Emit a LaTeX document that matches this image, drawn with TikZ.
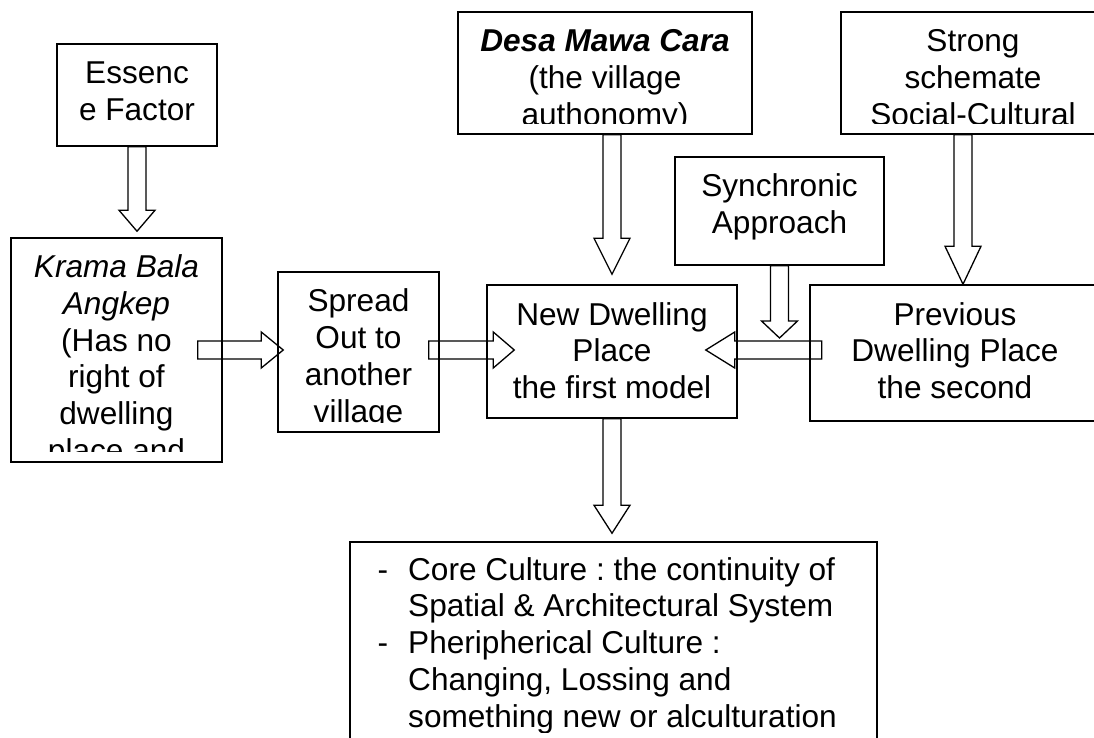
\documentclass[tikz,border=0pt]{standalone}
\usepackage{fontspec}
\setmainfont{Liberation Sans}
\usetikzlibrary{calc}
\frenchspacing
\tikzset{
  box/.style={draw, line width=1.5pt, inner sep=0pt},
  txt/.style={inner sep=0pt, align=center, font=\fontsize{31.6}{36.8}\selectfont},
  ltxt/.style={inner sep=0pt, align=left, font=\fontsize{31.6}{36.8}\selectfont},
  blk/.style={draw, line width=1.3pt, line join=miter, to path={
    ($(\tikztostart)!9pt!90:(\tikztotarget)$)
    -- ($(\tikztotarget)!#1!(\tikztostart)!9pt!-90:(\tikztostart)$)
    -- ($(\tikztotarget)!#1!(\tikztostart)!18pt!-90:(\tikztostart)$)
    -- (\tikztotarget)
    -- ($(\tikztotarget)!#1!(\tikztostart)!18pt!90:(\tikztostart)$)
    -- ($(\tikztotarget)!#1!(\tikztostart)!9pt!90:(\tikztostart)$)
    -- ($(\tikztostart)!9pt!-90:(\tikztotarget)$)
    -- cycle}}
}
\begin{document}
\begin{tikzpicture}[x=1pt,y=-1pt]
\useasboundingbox (0,0) rectangle (1094,738);
\clip (0,0) rectangle (1094,738);

% boxes
\node[box, minimum width=160pt, minimum height=102pt] (essence) at (137,95) {};
\node[box, minimum width=211pt, minimum height=224pt] (krama) at (116.5,350) {};
\node[box, minimum width=161pt, minimum height=160pt] (spread) at (358.5,352) {};
\node[box, minimum width=294pt, minimum height=122pt] (desa) at (605,73) {};
\node[box, minimum width=264pt, minimum height=122pt] (strong) at (973,73) {};
\node[box, minimum width=209pt, minimum height=108pt] (synch) at (779.5,211) {};
\node[box, minimum width=250pt, minimum height=133pt] (new) at (612,351.5) {};
\node[box, minimum width=290pt, minimum height=136pt] (prev) at (955,353) {};
\node[box, minimum width=527pt, minimum height=218pt] (bottom) at (613.5,651) {};

% texts (clipped inside their boxes)
\begin{scope}
\clip (essence.north west) rectangle ([yshift=11pt]essence.south east);
\node[txt, anchor=north] (essencetext) at (137,57.5) {\strut Essenc\\e Factor};
\end{scope}
\begin{scope}
\clip (krama.north west) rectangle ([yshift=11pt]krama.south east);
\node[txt, anchor=north] (kramatext) at (116.5,251.5) {\strut\textit{Krama Bala}\\\textit{Angkep}\\(Has no\\right of\\dwelling\\place and};
\end{scope}
\begin{scope}
\clip (spread.north west) rectangle ([yshift=10pt]spread.south east);
\node[txt, anchor=north] (spreadtext) at (358.5,285.9) {\strut Spread\\Out to\\another\\village};
\end{scope}
\begin{scope}
\clip (desa.north west) rectangle ([yshift=11pt]desa.south east);
\node[txt, anchor=north] (desatext) at (605,25.9) {\strut\textbf{\textit{Desa Mawa Cara}}\\(the village\\authonomy)};
\end{scope}
\begin{scope}
\clip (strong.north west) rectangle ([yshift=11pt]strong.south east);
\node[txt, anchor=north] (strongtext) at (973,25.9) {\strut Strong\\schemate\\Social-Cultural};
\end{scope}
\begin{scope}
\clip (synch.north west) rectangle ([yshift=8pt]synch.south east);
\node[txt, anchor=north] (synchtext) at (779.5,170.9) {\strut Synchronic\\Approach};
\end{scope}
\begin{scope}
\clip (new.north west) rectangle ([yshift=8pt]new.south east);
\node[txt, anchor=north] (newtext) at (612,299.2) {\strut New Dwelling\\Place\\the first model};
\end{scope}
\begin{scope}
\clip (prev.north west) rectangle ([yshift=8pt]prev.south east);
\node[txt, anchor=north] (prevtext) at (955,299.2) {\strut Previous\\Dwelling Place\\the second};
\end{scope}
\begin{scope}
\clip (bottom.north west) rectangle (877,732);
\node[ltxt, anchor=north west] (bottomtext) at (408,554.2) {\strut\llap{-\hspace{20pt}}Core Culture : the continuity of\\Spatial \& Architectural System\\\llap{-\hspace{20pt}}Pheripherical Culture :\\Changing, Lossing and\\something new or alculturation};
\end{scope}

% helper coordinates
\coordinate (row) at (0,350);
\coordinate (join) at (779.5,338);
\coordinate (sx) at (963,0);

% block arrows
\draw[blk=21pt] (essence.south) to ([yshift=6pt]krama.north -| essence.south);
\draw[blk=22pt] ([xshift=-25pt]krama.east |- row) to ([xshift=6pt]spread.west |- row);
\draw[blk=21pt] ([xshift=-11pt]spread.east |- row) to ([xshift=28pt]new.west |- row);
\draw[blk=29pt] ([xshift=12.5pt]prev.west |- row) to ([xshift=-32pt]new.east |- row);
\draw[blk=36pt] (desa.south -| new.north) to ([yshift=10pt]new.north);
\draw[blk=17pt] (synch.south) to (join);
\draw[blk=38pt] (strong.south -| sx) to (prev.north -| sx);
\draw[blk=28pt] (new.south) to ([yshift=8pt]bottom.north -| new.south);
\end{tikzpicture}
\end{document}
